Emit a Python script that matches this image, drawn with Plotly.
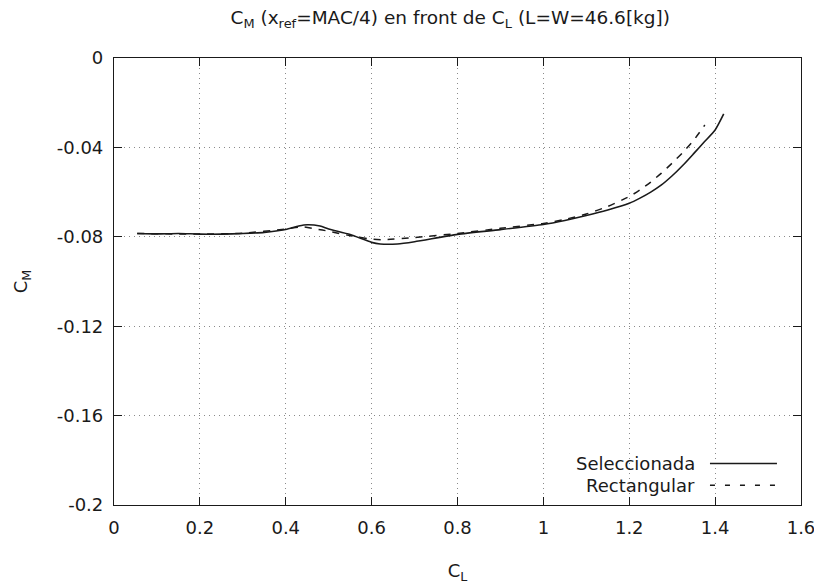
import plotly.graph_objects as go

# C_L / C_M
cl_sel = [0.054, 0.10, 0.15, 0.20, 0.25, 0.30, 0.35, 0.40, 0.43, 0.45, 0.48, 0.50,
          0.55, 0.60, 0.62, 0.66, 0.70, 0.80, 0.90, 1.00, 1.05, 1.10, 1.15, 1.20,
          1.225, 1.25, 1.275, 1.30, 1.325, 1.35, 1.375, 1.40, 1.42]
cm_sel = [-0.0785, -0.0787, -0.0785, -0.0788, -0.0788, -0.0785, -0.0780, -0.0767,
          -0.0752, -0.0746, -0.0752, -0.0765, -0.0790, -0.0825, -0.0832, -0.0832,
          -0.0822, -0.0789, -0.0768, -0.0745, -0.0727, -0.0705, -0.0680, -0.0650,
          -0.0627, -0.0600, -0.0568, -0.0527, -0.0480, -0.0428, -0.0375, -0.0322,
          -0.0250]

cl_rect = [0.054, 0.20, 0.30, 0.40, 0.44, 0.47, 0.50, 0.55, 0.60, 0.63, 0.70, 0.80,
           0.90, 1.00, 1.05, 1.10, 1.15, 1.20, 1.225, 1.25, 1.275, 1.30, 1.325,
           1.35, 1.376]
cm_rect = [-0.0785, -0.0788, -0.0784, -0.0765, -0.0755, -0.0765, -0.0775, -0.0795,
           -0.0810, -0.0813, -0.0803, -0.0785, -0.0762, -0.0740, -0.0722, -0.0698,
           -0.0664, -0.0620, -0.0590, -0.0555, -0.0515, -0.0470, -0.0422, -0.0368,
           -0.0300]

x_ticks = [0, 0.2, 0.4, 0.6, 0.8, 1, 1.2, 1.4, 1.6]
y_ticks = [0, -0.04, -0.08, -0.12, -0.16, -0.2]
y_labels = ['0', '-0.04', '-0.08', '-0.12', '-0.16', '-0.2']

font = 'DejaVu Sans'
ink = '#1a1a1a'
dash_style = '7px,7px'

fig = go.Figure()
fig.add_trace(go.Scatter(x=cl_sel, y=cm_sel, mode='lines', name='Seleccionada',
                         line=dict(color=ink, width=1.6, shape='spline', smoothing=0.6)))
fig.add_trace(go.Scatter(x=cl_rect, y=cm_rect, mode='lines', name='Rectangular',
                         line=dict(color=ink, width=1.5, dash=dash_style,
                                   shape='spline', smoothing=0.6)))

axis_common = dict(showline=True, linecolor=ink, linewidth=1.2, mirror='ticks',
                   ticks='inside', ticklen=8, tickcolor=ink, tickwidth=1.2,
                   showgrid=True, gridcolor='#8a8a8a', griddash='1px,4px', gridwidth=1,
                   zeroline=False, automargin=False,
                   tickfont=dict(family=font, size=18, color=ink))

fig.update_xaxes(range=[0, 1.6], tickvals=x_ticks, ticktext=[str(v) for v in x_ticks],
                 title=dict(text='C<sub>L</sub>', font=dict(family=font, size=18, color=ink),
                            standoff=27),
                 ticklabelstandoff=6, **axis_common)
fig.update_yaxes(range=[-0.2, 0], tickvals=y_ticks, ticktext=y_labels,
                 title=dict(text='C<sub>M</sub>', font=dict(family=font, size=18, color=ink),
                            standoff=24),
                 ticklabelstandoff=6, **axis_common)

# gnuplot style key: text right-aligned, sample to the right
legend_rows = [('Seleccionada', 'solid', 0.0), ('Rectangular', '5px,10px', 1.0)]
for label, dash, row in legend_rows:
    yk = -0.1814 - 0.0098 * row
    fig.add_annotation(x=1.357, y=yk, xref='x', yref='y', text=label, showarrow=False,
                       xanchor='right', yanchor='middle',
                       font=dict(family=font, size=18, color=ink))
    fig.add_shape(type='line', xref='x', yref='y', x0=1.388, x1=1.544, y0=yk, y1=yk,
                  line=dict(color=ink, width=1.5, dash=dash))

# the page body adds about 8px on the top and left, margins compensate for it
fig.update_layout(
    width=822, height=583,
    margin=dict(l=106, r=29, t=50, b=86),
    paper_bgcolor='white', plot_bgcolor='white',
    showlegend=False,
    title=dict(text='C<sub>M</sub> (x<sub>ref</sub>=MAC/4) en front de C<sub>L</sub> (L=W=46.6[kg])',
               x=0.538, xanchor='center', y=0.984, yanchor='middle',
               font=dict(family=font, size=18.5, color=ink)),
)

fig.write_html('out.html')
